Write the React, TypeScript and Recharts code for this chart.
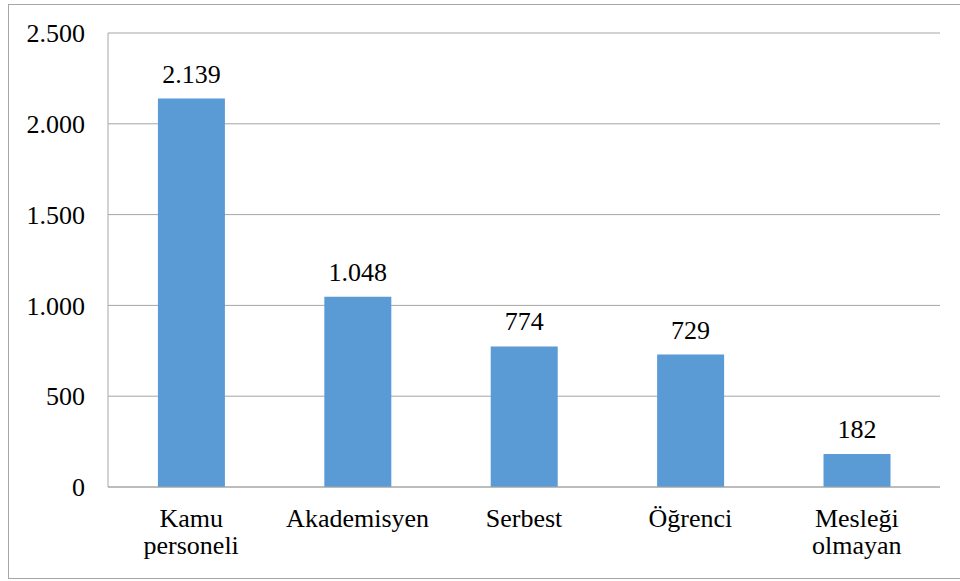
import React from "react";
import { BarChart, Bar, XAxis, YAxis, CartesianGrid, LabelList } from "recharts";

const categories = ["Kamu\npersoneli", "Akademisyen", "Serbest", "Öğrenci", "Mesleği\nolmayan"];
const values = [2139, 1048, 774, 729, 182];
const yTicks = [0, 500, 1000, 1500, 2000, 2500];

const data = categories.map((c, i) => ({ name: c, value: values[i] }));

const FONT = "Liberation Serif";
const FS = 26;
const GRID = "#a6a6a6";

const fmt = (v: number) => String(v).replace(/\B(?=(\d{3})+(?!\d))/g, ".");

const XTick = (props: any) => {
  const { x, y, payload } = props;
  const lines = String(payload.value).split("\n");
  return (
    <text x={x} y={y + 40} textAnchor="middle" style={{ fontFamily: FONT, fontSize: FS }} fill="#000">
      {lines.map((l, i) => (
        <tspan key={i} x={x} dy={i === 0 ? 0 : 27}>
          {l}
        </tspan>
      ))}
    </text>
  );
};

export default function App() {
  return (
    <div style={{ position: "absolute", left: 0, top: 0, width: 960, height: 581, background: "#fff" }}>
      <div
        style={{
          position: "absolute",
          left: 8,
          top: 4,
          width: 952,
          height: 575,
          boxSizing: "border-box",
          border: `1px solid ${GRID}`,
          borderRight: "none",
        }}
      />
      <div style={{ position: "absolute", left: 0, top: 0 }}>
        <BarChart
          width={960}
          height={581}
          data={data}
          margin={{ top: 33, right: 20, bottom: 0, left: 0 }}
          barCategoryGap="30%"
        >
          <CartesianGrid vertical={false} stroke={GRID} strokeWidth={1} />
          <XAxis
            dataKey="name"
            height={94}
            tickLine={false}
            tickSize={0}
            tickMargin={0}
            axisLine={{ stroke: GRID, strokeWidth: 1 }}
            tick={<XTick />}
            interval={0}
          />
          <YAxis
            width={108}
            domain={[0, 2500]}
            ticks={yTicks}
            tickFormatter={fmt}
            tickLine={false}
            tickSize={0}
            tickMargin={23}
            axisLine={{ stroke: GRID, strokeWidth: 1 }}
            tick={{ fontFamily: FONT, fontSize: FS, fill: "#000" }}
          />
          <Bar dataKey="value" fill="#5b9bd5" isAnimationActive={false}>
            <LabelList
              dataKey="value"
              position="top"
              offset={16}
              formatter={(v: any) => fmt(Number(v))}
              style={{ fontFamily: FONT, fontSize: FS, fill: "#000" }}
            />
          </Bar>
        </BarChart>
      </div>
    </div>
  );
}
